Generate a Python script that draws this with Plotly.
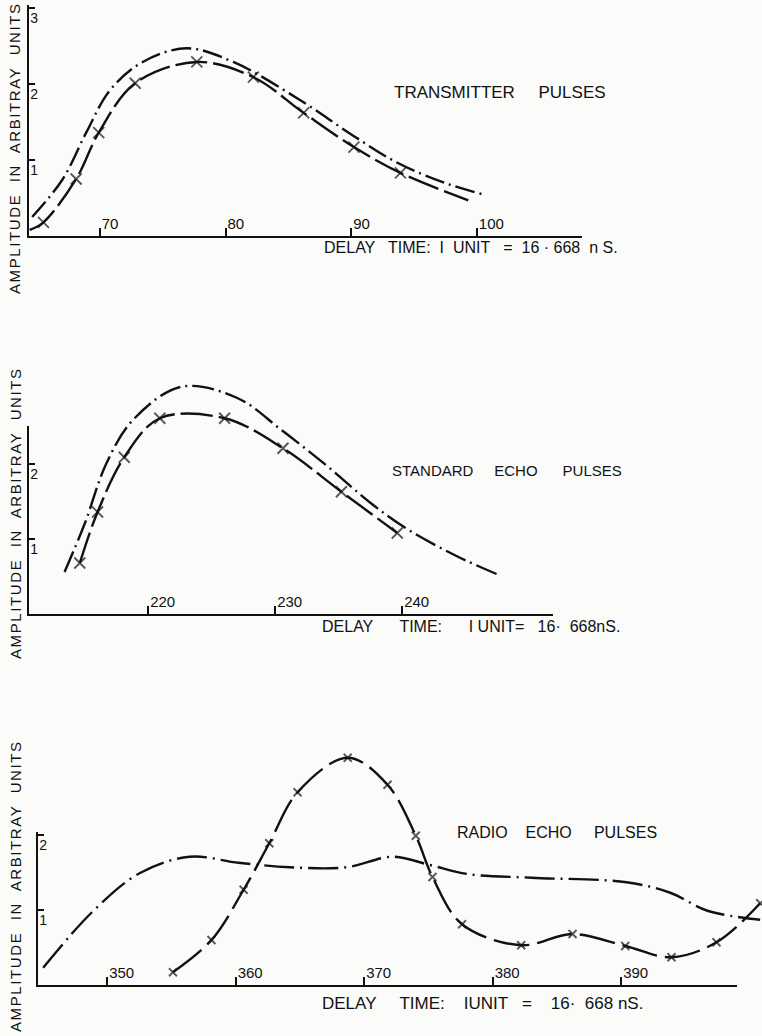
import plotly.graph_objects as go

W, H = 762, 1036

# ---------------- data ----------------
# Panel 1: transmitter pulses
tx_mark_x = [64.4, 65.5, 68.1, 69.9, 72.8, 77.7, 82.2, 86.2, 90.2, 93.9, 99.3]
tx_mark_y = [0.08, 0.18, 0.75, 1.36, 2.01, 2.29, 2.09, 1.62, 1.17, 0.83, 0.47]
tx_dash_x = [64.6, 67.0, 68.9, 70.8, 73.4, 76.9, 80.6, 85.9, 90.05, 93.7, 97.4, 100.4]
tx_dash_y = [0.25, 0.74, 1.36, 1.92, 2.29, 2.47, 2.29, 1.79, 1.33, 0.96, 0.70, 0.55]
tx_ticks = [70, 80, 90, 100]
tx_yticks = [1, 2, 3]

# Panel 2: standard echo pulses
se_mark_x = [214.6, 216.0, 218.1, 220.9, 226.0, 230.6, 235.2, 239.6]
se_mark_y = [0.68, 1.36, 2.09, 2.61, 2.61, 2.21, 1.63, 1.08]
se_dash_x = [213.4, 215.0, 216.7, 218.8, 222.6, 227.0, 230.5, 234.1, 237.5, 240.4, 244.3, 247.6]
se_dash_y = [0.56, 1.21, 2.01, 2.59, 3.03, 2.88, 2.45, 1.97, 1.48, 1.13, 0.77, 0.52]
se_ticks = [220, 230, 240]
se_yticks = [1, 2]

# Panel 3: radio echo pulses
re_mark_x = [355.1, 358.1, 360.6, 362.6, 364.8, 368.7, 371.8, 374.0, 375.3, 377.6,
             382.2, 386.2, 390.3, 393.9, 397.4, 400.8]
re_mark_y = [0.17, 0.60, 1.27, 1.89, 2.57, 3.03, 2.67, 1.99, 1.44, 0.81,
             0.53, 0.68, 0.52, 0.37, 0.57, 1.09]
re_dash_x = [345.0, 348.8, 352.5, 356.4, 360.2, 364.2, 368.6, 372.2, 375.1, 378.0,
             383.0, 390.4, 393.8, 396.7, 400.8]
re_dash_y = [0.23, 0.97, 1.49, 1.71, 1.63, 1.57, 1.57, 1.71, 1.60, 1.48,
             1.43, 1.37, 1.23, 0.99, 0.87]
re_ticks = [350, 360, 370, 380, 390]
re_yticks = [1, 2]

titles = ["TRANSMITTER     PULSES", "STANDARD     ECHO      PULSES", "RADIO    ECHO     PULSES"]
xtitles = ["DELAY   TIME:  I  UNIT   =  16 · 668  n S.",
           "DELAY      TIME:      I UNIT=   16·  668nS.",
           "DELAY     TIME:    IUNIT   =    16·  668 nS."]
ytitle = "AMPLITUDE  IN  ARBITRAY  UNITS"

# ---------------- layout geometry (pixels) ----------------
panels = [
    dict(mx=tx_mark_x, my=tx_mark_y, dx=tx_dash_x, dy=tx_dash_y, ticks=tx_ticks, yticks=tx_yticks,
         px0=29, x0=64.35, s=12.57, pxend=582, y0px=236, ys=76, top=5, dtop=0, dbot=300,
         msize=11, tsize=17, xtsize=16, ddash="20px,5px,2px,5px", xdash="32px,6px",
         title_pos=(392, 93), xt_pos=(322, 247), yt_pos=(15, 148)),
    dict(mx=se_mark_x, my=se_mark_y, dx=se_dash_x, dy=se_dash_y, ticks=se_ticks, yticks=se_yticks,
         px0=29, x0=210.6, s=12.7, pxend=553, y0px=614, ys=75, top=426, dtop=330, dbot=680,
         msize=11, tsize=15, xtsize=16, ddash="22px,5px,2px,5px", xdash="32px,6px",
         title_pos=(390, 470), xt_pos=(320, 626), yt_pos=(15, 513)),
    dict(mx=re_mark_x, my=re_mark_y, dx=re_dash_x, dy=re_dash_y, ticks=re_ticks, yticks=re_yticks,
         px0=38, x0=344.6, s=12.85, pxend=737, y0px=985, ys=75, top=832, dtop=700, dbot=1036,
         msize=8, tsize=16, xtsize=17, ddash="30px,6px,2px,6px", xdash="36px,8px",
         title_pos=(455, 832), xt_pos=(320, 1003), yt_pos=(15, 886)),
]

FONT = "Liberation Sans"
INK = "#111111"
fig = go.Figure()
layout = dict(width=W, height=H, margin=dict(l=0, r=0, t=0, b=0),
              paper_bgcolor="#fbfbfa", plot_bgcolor="rgba(0,0,0,0)",
              showlegend=False, font=dict(family=FONT, color=INK))
annotations = []

for i, p in enumerate(panels):
    da = 2 * i + 1   # data axes
    va = 2 * i + 2   # visible axes
    layout[f"xaxis{da}"] = dict(domain=[0, 1], range=[p["x0"] - p["px0"] / p["s"], p["x0"] + (W - p["px0"]) / p["s"]],
                                visible=False, anchor=f"y{da}")
    layout[f"yaxis{da}"] = dict(domain=[1 - p["dbot"] / H, 1 - p["dtop"] / H],
                                range=[(p["y0px"] - p["dbot"]) / p["ys"], (p["y0px"] - p["dtop"]) / p["ys"]],
                                visible=False, anchor=f"x{da}")
    layout[f"xaxis{va}"] = dict(domain=[p["px0"] / W, p["pxend"] / W],
                                range=[p["x0"], p["x0"] + (p["pxend"] - p["px0"]) / p["s"]],
                                anchor=f"y{va}", showline=True, linecolor=INK, linewidth=2,
                                ticks="inside", ticklen=8, tickwidth=1.5, tickcolor=INK,
                                tickvals=p["ticks"], ticktext=[str(t) for t in p["ticks"]],
                                ticklabelposition="inside right", ticklabelstandoff=1,
                                tickfont=dict(size=15, family=FONT, color=INK),
                                showgrid=False, zeroline=False)
    layout[f"yaxis{va}"] = dict(domain=[1 - p["y0px"] / H, 1 - p["top"] / H],
                                range=[0, (p["y0px"] - p["top"]) / p["ys"]],
                                anchor=f"x{va}", showline=True, linecolor=INK, linewidth=2,
                                ticks="inside", ticklen=6, tickwidth=1.5, tickcolor=INK,
                                tickvals=p["yticks"], ticktext=[str(t) for t in p["yticks"]],
                                ticklabelposition="inside bottom",
                                tickfont=dict(size=14, family=FONT, color=INK),
                                showgrid=False, zeroline=False)
    fig.add_trace(go.Scatter(x=[], y=[], xaxis=f"x{va}", yaxis=f"y{va}", hoverinfo="skip"))
    fig.add_trace(go.Scatter(x=p["dx"], y=p["dy"], mode="lines", xaxis=f"x{da}", yaxis=f"y{da}",
                             line=dict(color=INK, width=2.4, shape="spline", dash=p["ddash"])))
    n = len(p["mx"])
    sizes = [p["msize"]] * n
    if i == 0:
        sizes[0] = 0
        sizes[-1] = 0
    fig.add_trace(go.Scatter(x=p["mx"], y=p["my"], mode="lines+markers", xaxis=f"x{da}", yaxis=f"y{da}",
                             line=dict(color=INK, width=2.4, shape="spline", dash=p["xdash"]),
                             marker=dict(symbol="x-thin", size=sizes, color=INK,
                                         line=dict(color=INK, width=1.8)),
                             cliponaxis=False))
    annotations.append(dict(text=titles[i], x=p["title_pos"][0] / W, y=1 - p["title_pos"][1] / H,
                            xref="paper", yref="paper", xanchor="left", yanchor="middle",
                            showarrow=False, font=dict(size=p["tsize"], family=FONT, color=INK)))
    annotations.append(dict(text=xtitles[i], x=p["xt_pos"][0] / W, y=1 - p["xt_pos"][1] / H,
                            xref="paper", yref="paper", xanchor="left", yanchor="middle",
                            showarrow=False, font=dict(size=p["xtsize"], family=FONT, color=INK)))
    annotations.append(dict(text='<span style="letter-spacing:1.6px">' + ytitle + '</span>',
                            x=p["yt_pos"][0] / W, y=1 - p["yt_pos"][1] / H,
                            xref="paper", yref="paper", xanchor="center", yanchor="middle",
                            textangle=-90, showarrow=False,
                            font=dict(size=15, family=FONT, color=INK)))

layout["annotations"] = annotations
fig.update_layout(**layout)
fig.write_html("out.html", config={"displayModeBar": False},
               post_script="document.body.style.margin='0px';document.body.style.overflow='hidden';")
